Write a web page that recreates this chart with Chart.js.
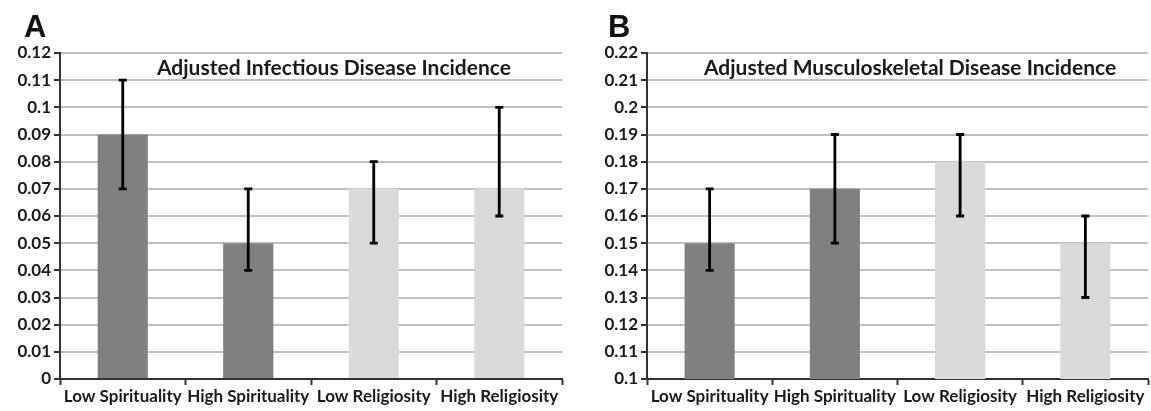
<!DOCTYPE html>
<html>
<head>
<meta charset="utf-8">
<script src="https://cdn.jsdelivr.net/npm/chart.js@4.4.1/dist/chart.umd.min.js"></script>
<style>
  html,body{margin:0;padding:0;background:#fff;}
  .wrap{position:absolute;top:0;height:411px;}
  #wa{left:0;width:575px;}
  #wb{left:575px;width:576px;}
</style>
</head>
<body>
<div class="wrap" id="wa"><canvas id="chA"></canvas></div>
<div class="wrap" id="wb"><canvas id="chB"></canvas></div>
<script>
// ---- datos ----
const categorias=['Low Spirituality','High Spirituality','Low Religiosity','High Religiosity'];
const coloresBarra=['#808080','#808080','#d9d9d9','#d9d9d9'];

const infValores=[0.09,0.05,0.07,0.07];
const infBajo=[0.07,0.04,0.05,0.06];
const infAlto=[0.11,0.07,0.08,0.10];

const muscValores=[0.15,0.17,0.18,0.15];
const muscBajo=[0.14,0.15,0.16,0.13];
const muscAlto=[0.17,0.19,0.19,0.16];

const infEje={min:0,max:0.12,step:0.01};
const muscEje={min:0.1,max:0.22,step:0.01};

// barras de error
const errorBars={
  id:'errorBars',
  afterDatasetsDraw(chart,args,opts){
    const {ctx,scales:{x,y}}=chart;
    ctx.save();
    ctx.strokeStyle='#000';ctx.lineWidth=2.8;
    opts.low.forEach((lo,i)=>{
      const px=x.getPixelForValue(i);
      const y1=y.getPixelForValue(lo),y2=y.getPixelForValue(opts.high[i]);
      ctx.beginPath();
      ctx.moveTo(px,y1);ctx.lineTo(px,y2);
      ctx.moveTo(px-4,y1);ctx.lineTo(px+4,y1);
      ctx.moveTo(px-4,y2);ctx.lineTo(px+4,y2);
      ctx.stroke();
    });
    ctx.restore();
  }
};

// letra del panel y titulo interno
const rotulos={
  id:'rotulos',
  afterDraw(chart,args,opts){
    const {ctx,chartArea:a}=chart;
    ctx.save();
    ctx.fillStyle='#111';
    ctx.textBaseline='alphabetic';ctx.textAlign='left';
    ctx.font='bold 31px "Liberation Sans", Arial, sans-serif';
    ctx.fillText(opts.letra,opts.letraX,37);
    ctx.fillStyle='#1a1a1a';
    ctx.font='bold 21px Lato, sans-serif';
    ctx.textBaseline='middle';
    ctx.fillText(opts.titulo,a.left+opts.tituloDx,a.top+15);
    ctx.restore();
  }
};

function crearPanel(id,valores,bajo,alto,eje,letra,letraX,titulo,tituloDx,ancho,padR){
  return new Chart(document.getElementById(id),{
    type:'bar',
    data:{labels:categorias,datasets:[{data:valores,backgroundColor:coloresBarra,borderWidth:0,
      categoryPercentage:1,barPercentage:0.4}]},
    options:{
      responsive:true,maintainAspectRatio:false,animation:false,
      layout:{padding:{top:53,right:padR,bottom:0,left:0}},
      plugins:{legend:{display:false},tooltip:{enabled:false},
        errorBars:{low:bajo,high:alto},
        rotulos:{letra,letraX,titulo,tituloDx}},
      scales:{
        x:{
          grid:{display:true,drawOnChartArea:false,offset:true,tickLength:6,tickColor:'#333',tickWidth:2},
          border:{color:'#333',width:2},
          ticks:{color:'#1a1a1a',font:{family:'Lato',size:17,weight:'bold'},padding:1,maxRotation:0,autoSkip:false},
          afterFit(s){s.height=32;}
        },
        y:{
          min:eje.min,max:eje.max,
          grid:{color:'#c0c0c0',lineWidth:2,tickLength:6,tickColor:'#333',tickWidth:2},
          border:{color:'#333',width:2},
          ticks:{stepSize:eje.step,color:'#1a1a1a',font:{family:'Lato',size:17,weight:'bold'},padding:3,
            callback:v=>String(Math.round(v*100)/100)},
          afterFit(s){s.width=ancho;}
        }
      }
    },
    plugins:[errorBars,rotulos]
  });
}

crearPanel('chA',infValores,infBajo,infAlto,infEje,'A',24,'Adjusted Infectious Disease Incidence',97,60,13);
crearPanel('chB',muscValores,muscBajo,muscAlto,muscEje,'B',33,'Adjusted Musculoskeletal Disease Incidence',57,72,3);
</script>
</body>
</html>
